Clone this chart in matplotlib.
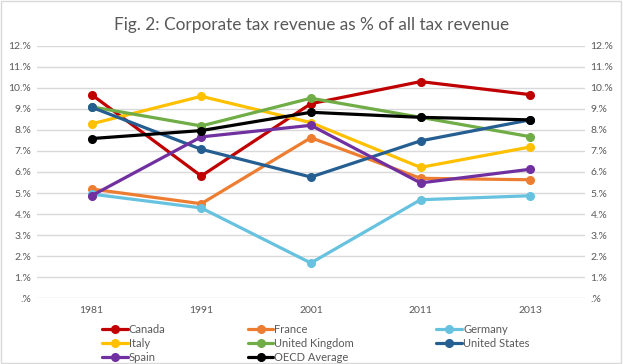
import matplotlib.pyplot as plt
from matplotlib.ticker import FuncFormatter

years = ['1981', '1991', '2001', '2011', '2013']

canada = [9.68, 5.81, 9.25, 10.3, 9.68]
france = [5.19, 4.49, 7.63, 5.7, 5.63]
germany = [4.95, 4.29, 1.67, 4.68, 4.87]
italy = [8.29, 9.6, 8.35, 6.22, 7.19]
uk = [9.1, 8.19, 9.51, 8.6, 7.68]
usa = [9.08, 7.08, 5.76, 7.48, 8.48]
spain = [4.87, 7.67, 8.22, 5.48, 6.13]
oecd = [7.59, 7.97, 8.84, 8.6, 8.48]

series = [
    ('Canada', canada, '#C00000'),
    ('France', france, '#ED7D31'),
    ('Germany', germany, '#66C2DF'),
    ('Italy', italy, '#FFC000'),
    ('United Kingdom', uk, '#70AD47'),
    ('United States', usa, '#255E91'),
    ('Spain', spain, '#7030A0'),
    ('OECD Average', oecd, '#000000'),
]

plt.rcParams['font.family'] = ['Lato', 'DejaVu Sans']

fig = plt.figure(figsize=(6.23, 3.64), dpi=100)
ax = fig.add_axes([0.059, 0.181, 0.88, 0.693])

x = range(len(years))
handles = {}
for name, vals, col in series:
    h, = ax.plot(x, vals, color=col, lw=2.3, marker='o', ms=5.5, label=name,
                 solid_capstyle='round')
    handles[name] = h

ax.set_xlim(-0.5, 4.5)
ax.set_ylim(0, 12)
ax.set_yticks(range(0, 13))
fmt = FuncFormatter(lambda v, p: ('%d.%%' % v) if v > 0 else '.%')
ax.yaxis.set_major_formatter(fmt)
ax.set_xticks(list(x))
ax.set_xticklabels(years)
ax.grid(axis='y', color='#D9D9D9', lw=1)
ax.set_axisbelow(True)
for s in ax.spines.values():
    s.set_visible(False)
ax.tick_params(length=0, labelsize=7.5, colors='#595959', pad=6)
ax.tick_params(axis='y', labelleft=True, labelright=True, pad=4)

fig.text(0.5, 0.93, 'Fig. 2: Corporate tax revenue as % of all tax revenue',
         ha='center', va='center', fontsize=12.4, color='#595959')

order = ['Canada', 'Italy', 'Spain', 'France', 'United Kingdom', 'OECD Average',
         'Germany', 'United States']
fig.legend([handles[n] for n in order], order, ncol=3, frameon=False,
           loc='upper left', bbox_to_anchor=(0.155, 0.125), fontsize=8,
           handlelength=2.3, handletextpad=0.1, columnspacing=7.4,
           labelspacing=0.25, borderpad=0, labelcolor='#595959')

fig.add_artist(plt.Rectangle((0.002, 0.003), 0.995, 0.994, transform=fig.transFigure,
                             fill=False, ec='#D9D9D9', lw=1))

fig.savefig('out.png', dpi=100)
